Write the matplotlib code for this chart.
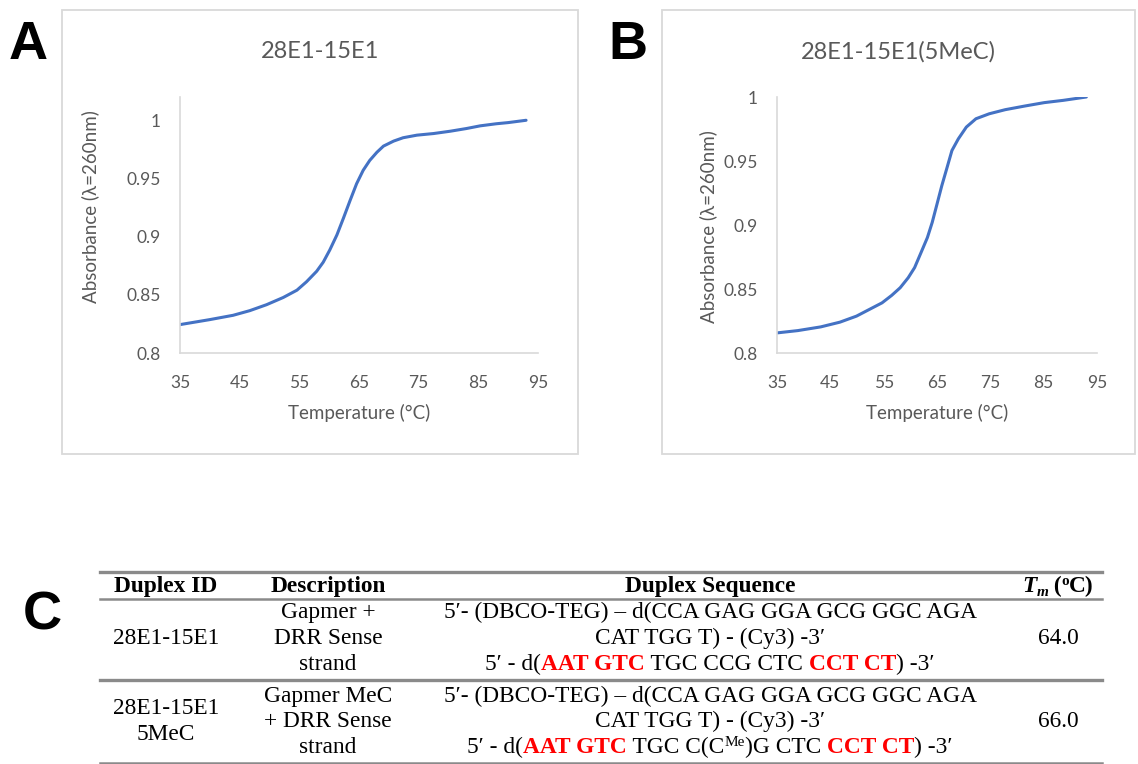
import matplotlib
matplotlib.use("Agg")
import matplotlib.pyplot as plt
from matplotlib.patches import Rectangle
from matplotlib.lines import Line2D

W, H = 1138, 764

# melting curve A: 28E1-15E1
temp_a = [35, 40, 43.9, 46.7, 49.5, 52.3, 54.6, 56.2, 57.9, 59.0, 60.1, 61.3, 62.4,
          63.5, 64.6, 65.7, 66.8, 68.0, 69.1, 70.8, 72.4, 74.7, 77.5, 80.3, 83.0,
          85.3, 88, 90, 93]
abs_a = [0.8244, 0.8287, 0.8324, 0.8364, 0.8415, 0.8477, 0.8540, 0.8612, 0.8702,
         0.8780, 0.8885, 0.9015, 0.9160, 0.9310, 0.9455, 0.9570, 0.9655, 0.9725,
         0.9778, 0.9821, 0.9850, 0.9872, 0.9886, 0.9906, 0.9929, 0.9952, 0.997,
         0.998, 1.0]

# melting curve B: 28E1-15E1(5MeC)
temp_b = [35, 38.9, 43.2, 46.8, 49.9, 52.3, 54.7, 56.5, 58.1, 59.6, 60.8, 62.0, 63.2,
          64.1, 65.0, 65.9, 66.9, 67.8, 69.0, 70.5, 72.3, 74.8, 77.8, 81.4, 85.1,
          88.7, 93.0]
abs_b = [0.8157, 0.8175, 0.8204, 0.8241, 0.8288, 0.8340, 0.8392, 0.8450, 0.8510,
         0.8588, 0.8667, 0.8784, 0.8902, 0.9020, 0.9163, 0.9307, 0.9451, 0.9582,
         0.9673, 0.9765, 0.9830, 0.9869, 0.9901, 0.9929, 0.9956, 0.9974, 1.0]

x_ticks = [35, 45, 55, 65, 75, 85, 95]
y_ticks = [0.8, 0.85, 0.9, 0.95, 1.0]
y_ticklabels = ["0.8", "0.85", "0.9", "0.95", "1"]

# table
ids = [["28E1-15E1"], ["28E1-15E1", "5MeC"]]
descs = [["Gapmer +", "DRR Sense", "strand"], ["Gapmer MeC", "+ DRR Sense", "strand"]]
tms = ["64.0", "66.0"]

GREY = "#595959"
BLUE = "#4472c4"
SANS = ["Lato", "DejaVu Sans"]
SERIF = ["Liberation Serif", "DejaVu Serif"]


def fx(x):
    return x / W


def fy(y):
    return 1 - y / H


fig = plt.figure(figsize=(W / 100, H / 100), dpi=100)
renderer = fig.canvas.get_renderer()


def make_chart(box, axbox, title, temp, vals, ytop, ylab_x, ylab_y):
    x0, y0, x1, y1 = box
    fig.add_artist(Rectangle((fx(x0), fy(y1)), (x1 - x0) / W, (y1 - y0) / H,
                             transform=fig.transFigure, fill=False,
                             ec="#d9d9d9", lw=1.3))
    fig.text(fx((x0 + x1) / 2), fy(52), title, ha="center", va="center",
             fontsize=17, color=GREY, family=SANS)
    ax0, ay0, ax1, ay1 = axbox
    ax = fig.add_axes([fx(ax0), fy(ay1), (ax1 - ax0) / W, (ay1 - ay0) / H])
    ax.plot(temp, vals, color=BLUE, lw=2.2, solid_capstyle="round",
            solid_joinstyle="round")
    ax.set_xlim(35, 95)
    ax.set_ylim(0.8, ytop)
    ax.set_xticks(x_ticks)
    ax.set_yticks(y_ticks)
    ax.set_yticklabels(y_ticklabels)
    for s in ["top", "right"]:
        ax.spines[s].set_visible(False)
    for s in ["left", "bottom"]:
        ax.spines[s].set_color("#d9d9d9")
        ax.spines[s].set_linewidth(1.2)
    ax.tick_params(length=0, labelsize=12.5, labelcolor=GREY)
    ax.tick_params(axis="y", pad=14)
    ax.tick_params(axis="x", pad=16)
    for lab in ax.get_xticklabels() + ax.get_yticklabels():
        lab.set_family(SANS)
    ax.set_xlabel("Temperature (°C)", fontsize=13.5, color=GREY, family=SANS)
    ax.xaxis.label.set_va("center")
    ax.xaxis.set_label_coords(0.5, -(413 - ay1) / (ay1 - ay0))
    ax.set_ylabel("Absorbance (λ=260nm)", fontsize=13.5, color=GREY, family=SANS)
    ax.yaxis.label.set_va("center")
    ax.yaxis.set_label_coords((ylab_x - ax0) / (ax1 - ax0), (ay1 - ylab_y) / (ay1 - ay0))
    return ax


make_chart((62, 10, 578, 454), (180, 97, 538, 353), "28E1-15E1",
           temp_a, abs_a, 1.02, 90, 207)
make_chart((662, 10, 1135, 454), (777, 97, 1097, 353), "28E1-15E1(5MeC)",
           temp_b, abs_b, 1.0, 708, 227)

# panel letters
for letter, (px, py) in zip("ABC", [(28, 45), (628, 45), (42, 615)]):
    fig.text(fx(px), fy(py), letter, ha="center", va="center", fontsize=39,
             fontweight="bold", family="Liberation Sans")

# ---- table ----
TS = 16.8


def width_px(s, size, weight, style):
    t = fig.text(0, 0, "|" + s + "|", fontsize=size, fontweight=weight,
                 fontstyle=style, family=SERIF)
    w = t.get_window_extent(renderer).width
    t.remove()
    t = fig.text(0, 0, "||", fontsize=size, fontweight=weight,
                 fontstyle=style, family=SERIF)
    w -= t.get_window_extent(renderer).width
    t.remove()
    return w


def rich_line(cx, y, pieces):
    # pieces: (text, color, weight, style, size, dy)
    ws = [width_px(p[0], p[4], p[2], p[3]) for p in pieces]
    x = cx - sum(ws) / 2
    for p, w in zip(pieces, ws):
        txt, col, wt, st, sz, dy = p
        fig.text(fx(x), fy(y + 6 + dy), txt, color=col, fontweight=wt,
                 fontstyle=st, fontsize=sz, family=SERIF, ha="left",
                 va="baseline")
        x += w


def plain(cx, y, s, weight="normal"):
    fig.text(fx(cx), fy(y + 6), s, ha="center", va="baseline", fontsize=TS,
             fontweight=weight, family=SERIF)


def k(s, wt="normal"):
    return (s, "black", wt, "normal", TS, 0)


def r(s):
    return (s, "red", "bold", "normal", TS, 0)


col_id, col_desc, col_seq, col_tm = 166, 328, 710, 1058
rules = [(572, 2.4), (599, 1.8), (680, 2.4), (763, 1.8)]
for ry, lw in rules:
    fig.add_artist(Line2D([fx(100), fx(1102)], [fy(ry), fy(ry)],
                          transform=fig.transFigure, color="#8a8a8a", lw=lw))

head_y = 586
plain(col_id, head_y, "Duplex ID", "bold")
plain(col_desc, head_y, "Description", "bold")
plain(col_seq, head_y, "Duplex Sequence", "bold")
rich_line(col_tm, head_y, [("T", "black", "bold", "italic", TS, 0),
                           ("m", "black", "bold", "italic", 11, 4),
                           (" (", "black", "bold", "normal", TS, 0),
                           ("o", "black", "bold", "normal", 11, -7),
                           ("C)", "black", "bold", "normal", TS, 0)])

row_lines = [[612, 638, 664], [696, 721, 747]]
seq_line1 = "5′- (DBCO-TEG) – d(CCA GAG GGA GCG GGC AGA"
seq_line2 = "CAT TGG T) - (Cy3) -3′"
seq_line3 = [
    [k("5′ - d("), r("AAT GTC"), k(" TGC CCG CTC "), r("CCT CT"), k(") -3′")],
    [k("5′ - d("), r("AAT GTC"), k(" TGC C(C"),
     ("Me", "black", "normal", "normal", 11, -7), k(")G CTC "), r("CCT CT"),
     k(") -3′")],
]

for i in range(2):
    ys = row_lines[i]
    mid = ys[1]
    if len(ids[i]) == 1:
        plain(col_id, mid, ids[i][0])
    else:
        plain(col_id, 708, ids[i][0])
        plain(col_id, 734, ids[i][1])
    for j, d in enumerate(descs[i]):
        plain(col_desc, ys[j], d)
    plain(col_seq, ys[0], seq_line1)
    plain(col_seq, ys[1], seq_line2)
    rich_line(col_seq, ys[2], seq_line3[i])
    plain(col_tm, mid, tms[i])

fig.savefig("out.png", dpi=100)
